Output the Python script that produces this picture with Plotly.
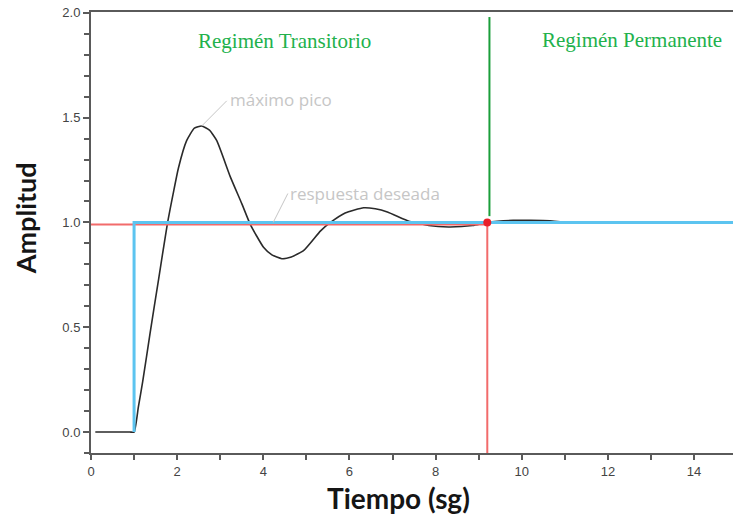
import plotly.graph_objects as go

# Step response
t_resp = [0.1, 0.5, 0.9, 1.0, 1.1, 1.2, 1.37, 1.57, 1.77, 1.91, 2.03, 2.22, 2.4, 2.57, 2.75, 2.92,
          3.23, 3.5, 3.7, 4.01, 4.2, 4.43, 4.65, 4.94, 5.33, 5.56, 5.9, 6.33, 6.6, 6.88, 7.38,
          7.59, 7.84, 8.3, 8.86, 9.2, 9.8, 10.2, 10.65, 11.0, 11.5, 12.9, 13.5, 15.1]
y_resp = [0.0, 0.0, 0.0, 0.0, 0.12, 0.24, 0.47, 0.73, 0.99, 1.14, 1.26, 1.39, 1.45, 1.46, 1.44, 1.39,
          1.22, 1.09, 0.99, 0.88, 0.845, 0.827, 0.835, 0.867, 0.96, 1.0, 1.045, 1.07, 1.065, 1.05,
          1.006, 0.997, 0.985, 0.978, 0.985, 1.0, 1.01, 1.01, 1.008, 1.0, 0.997, 0.997, 1.0, 1.0]

# Desired response (step at t=1)
t_ref = [1.0, 1.0, 15.1]
y_ref = [0.0, 1.0, 1.0]

# Settling marker
t_settle = 9.2
y_settle = 1.0
y_red = 0.99
t_green = 9.25
y_green = [1.03, 1.98]

x_ticks = [0, 2, 4, 6, 8, 10, 12, 14]
y_ticks = [0.0, 0.5, 1.0, 1.5, 2.0]

x_range = [0, 15.09]
y_range = [-0.1, 2.004]

GREY_TXT = "#c6c6c6"
GREEN_TXT = "#22b14c"
AXIS = "#5a5a5a"

fig = go.Figure()

fig.add_trace(go.Scatter(x=t_resp, y=y_resp, mode="lines",
                         line=dict(color="#2a2a2a", width=1.6, shape="spline", smoothing=0.5),
                         hoverinfo="skip", showlegend=False))
fig.add_trace(go.Scatter(x=[x_range[0], t_settle, t_settle], y=[y_red, y_red, y_range[0]],
                         mode="lines", line=dict(color="#f26b6b", width=2),
                         hoverinfo="skip", showlegend=False))
fig.add_trace(go.Scatter(x=t_ref, y=y_ref, mode="lines",
                         line=dict(color="#5cc4f0", width=3),
                         hoverinfo="skip", showlegend=False))
fig.add_trace(go.Scatter(x=[t_green, t_green], y=y_green, mode="lines",
                         line=dict(color="#1a9e3a", width=2),
                         hoverinfo="skip", showlegend=False))
fig.add_trace(go.Scatter(x=[t_settle], y=[y_settle], mode="markers",
                         marker=dict(color="#e8202a", size=8),
                         hoverinfo="skip", showlegend=False))

i_peak = y_resp.index(max(y_resp))
peak_t, peak_y = t_resp[i_peak], y_resp[i_peak]
fig.add_trace(go.Scatter(x=[peak_t, peak_t + 0.58], y=[peak_y, peak_y + 0.12], mode="lines",
                         line=dict(color=GREY_TXT, width=1), hoverinfo="skip", showlegend=False))
fig.add_trace(go.Scatter(x=[4.23, 4.57], y=[1.0, 1.138], mode="lines",
                         line=dict(color=GREY_TXT, width=1), hoverinfo="skip", showlegend=False))

annotations = [
    dict(x=peak_t + 0.6, y=peak_y + 0.125, xref="x", yref="y", text="máximo pico",
         showarrow=False, xanchor="left", yanchor="middle",
         font=dict(family="Open Sans", size=17, color=GREY_TXT)),
    dict(x=4.58, y=1.14, xref="x", yref="y", text="respuesta deseada",
         showarrow=False, xanchor="left", yanchor="middle",
         font=dict(family="Open Sans", size=17, color=GREY_TXT)),
    dict(x=4.5, y=1.865, xref="x", yref="y", text="Regimén Transitorio",
         showarrow=False, xanchor="center", yanchor="middle",
         font=dict(family="Liberation Serif", size=21, color=GREEN_TXT)),
    dict(x=12.55, y=1.87, xref="x", yref="y", text="Regimén Permanente",
         showarrow=False, xanchor="center", yanchor="middle",
         font=dict(family="Liberation Serif", size=21, color=GREEN_TXT)),
    dict(x=0, y=1.02, xref="paper", yref="y", xshift=-66, text="<b>Amplitud</b>",
         textangle=-90, showarrow=False, xanchor="center", yanchor="middle",
         font=dict(family="Lato", size=27, color="#151515")),
    dict(x=7.15, y=0, xref="x", yref="paper", yshift=-45, text="<b>Tiempo (sg)</b>",
         showarrow=False, xanchor="center", yanchor="middle",
         font=dict(family="Lato", size=28, color="#151515")),
]

# page body has an 8px default margin, so the figure is offset by 8px
fig.update_layout(
    width=733, height=507,
    margin=dict(l=83, r=0, t=4, b=62, autoexpand=False),
    paper_bgcolor="white", plot_bgcolor="white",
    annotations=annotations,
    xaxis=dict(range=x_range, tickvals=x_ticks, ticktext=[str(v) for v in x_ticks],
               automargin=False,
               showgrid=False, zeroline=False, showline=True, linecolor=AXIS, linewidth=2,
               mirror=True, ticks="outside", ticklen=5, tickwidth=1.5, tickcolor=AXIS,
               minor=dict(dtick=1, ticks="outside", ticklen=5, tickwidth=1.5, tickcolor=AXIS),
               tickfont=dict(family="Liberation Sans", size=13, color="#444444")),
    yaxis=dict(range=y_range, tickvals=y_ticks, ticktext=[f"{v:.1f}" for v in y_ticks],
               ticklabeloverflow="allow", automargin=False,
               showgrid=False, zeroline=False, showline=True, linecolor=AXIS, linewidth=2,
               ticks="outside", ticklen=6, tickwidth=1.5, tickcolor=AXIS,
               minor=dict(dtick=0.1, tick0=0, ticks="outside", ticklen=5, tickwidth=1.5, tickcolor=AXIS),
               tickfont=dict(family="Liberation Sans", size=13, color="#444444")),
)

fig.write_html("out.html")
